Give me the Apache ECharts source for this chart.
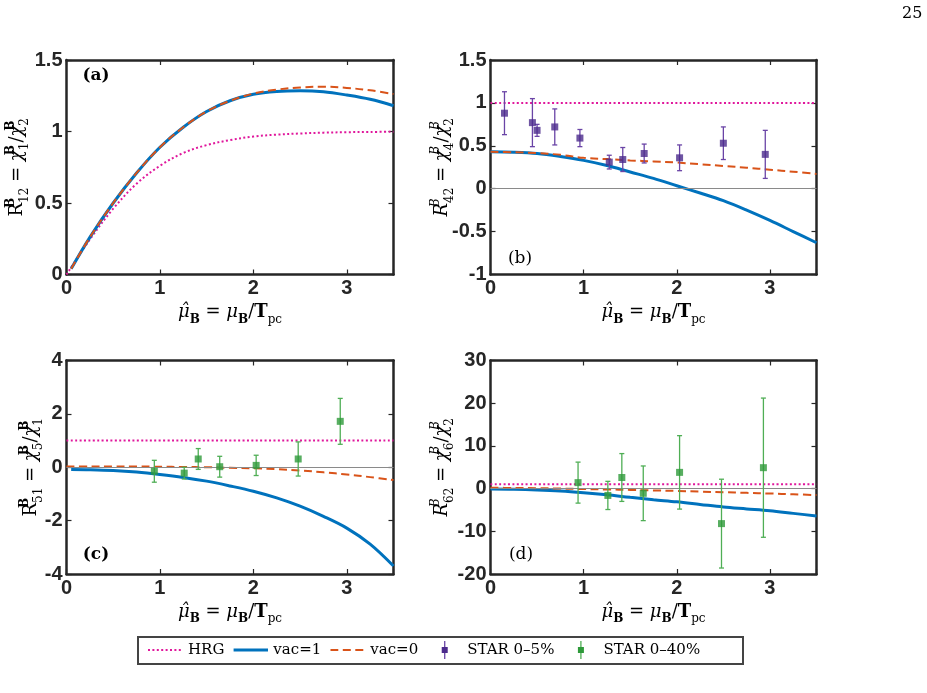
<!DOCTYPE html>
<html>
<head>
<meta charset="utf-8">
<script src="https://cdn.jsdelivr.net/npm/echarts@6/dist/echarts.min.js"></script>
<style>html,body{margin:0;padding:0;background:#fff}#c{width:927px;height:693px}</style>
</head>
<body>
<div id="c"></div>
<script>
// ---------- data ----------
const muFull   = [0, 0.25, 0.5, 0.75, 1, 1.25, 1.5, 1.75, 2, 2.25, 2.5, 2.75, 3, 3.25, 3.5];
const muTheory = [0.05, 0.25, 0.5, 0.75, 1, 1.25, 1.5, 1.75, 2, 2.25, 2.5, 2.75, 3, 3.25, 3.5];
const hrgEnds  = [0, 3.5];

// panel (a) R12
const hrgA  = [0, 0.245, 0.46, 0.635, 0.76, 0.85, 0.905, 0.94, 0.965, 0.978, 0.986, 0.992, 0.995, 0.997, 0.998];
const vac1A = [0.04, 0.26, 0.50, 0.71, 0.89, 1.03, 1.14, 1.215, 1.26, 1.28, 1.285, 1.278, 1.255, 1.225, 1.18];
const vac0A = [0.04, 0.26, 0.50, 0.71, 0.89, 1.03, 1.14, 1.215, 1.265, 1.293, 1.308, 1.313, 1.305, 1.288, 1.262];
// panel (b) R42
const hrgB  = [1, 1];
const vac1B = [0.43, 0.425, 0.41, 0.375, 0.33, 0.27, 0.195, 0.12, 0.035, -0.05, -0.14, -0.25, -0.37, -0.5, -0.63];
const vac0B = [0.43, 0.425, 0.415, 0.395, 0.36, 0.345, 0.33, 0.318, 0.305, 0.285, 0.265, 0.245, 0.222, 0.198, 0.172];
// panel (c) R51
const hrgC  = [1, 1];
const vac1C = [-0.08, -0.09, -0.12, -0.18, -0.27, -0.38, -0.52, -0.7, -0.9, -1.15, -1.46, -1.84, -2.28, -2.88, -3.7];
const vac0C = [0.03, 0.03, 0.03, 0.03, 0.02, 0.01, 0.0, -0.02, -0.04, -0.07, -0.12, -0.19, -0.27, -0.37, -0.48];
// panel (d) R62
const hrgD  = [1, 1];
const vac1D = [-0.1, -0.15, -0.3, -0.55, -0.95, -1.45, -2.05, -2.6, -3.1, -3.7, -4.3, -4.75, -5.2, -5.8, -6.4];
const vac0D = [0.2, 0.15, 0.1, 0.0, -0.1, -0.2, -0.3, -0.42, -0.55, -0.7, -0.85, -1.0, -1.15, -1.33, -1.52];

// STAR 0-5% (panel b)
const star05x   = [0.15, 0.45, 0.5, 0.69, 0.96, 1.275, 1.42, 1.65, 2.03, 2.5, 2.95];
const star05R42 = [0.88, 0.77, 0.68, 0.72, 0.59, 0.31, 0.34, 0.41, 0.36, 0.53, 0.40];
const star05Err = [0.25, 0.28, 0.07, 0.21, 0.10, 0.08, 0.14, 0.11, 0.15, 0.19, 0.28];
// STAR 0-40% (panels c, d)
const star40x      = [0.94, 1.26, 1.41, 1.64, 2.03, 2.48, 2.93];
const star40R51    = [-0.15, -0.22, 0.31, 0.02, 0.07, 0.31, 1.72];
const star40R51Err = [0.41, 0.22, 0.39, 0.39, 0.38, 0.64, 0.86];
const star40R62    = [1.4, -1.6, 2.6, -1.1, 3.8, -8.2, 4.9];
const star40R62Err = [4.8, 3.3, 5.6, 6.4, 8.6, 10.4, 16.3];

// axis ranges / ticks
const xRange = [0, 3.5, 1];
const yRanges = [[0, 1.5, 0.5], [-1, 1.5, 0.5], [-4, 4, 2], [-20, 30, 10]];
const panelLabels = ['(a)', '(b)', '(c)', '(d)'];
const legendNames = ['HRG', 'vac=1', 'vac=0', 'STAR 0–5%', 'STAR 0–40%'];

// ---------- styles ----------
const C_HRG = '#e0179c', C_V1 = '#0072BD', C_V0 = '#D95319';
const C_P = '#4b2a8c', C_PE = '#6a44a6', C_G = '#2e9a3a', C_GE = '#4fae55';
const AX = '#262626';
const grids = [
  {left: 66.5, top: 60, width: 327, height: 214.5},
  {left: 490.5, top: 60, width: 326, height: 214.5},
  {left: 66.5, top: 360.5, width: 327, height: 213.5},
  {left: 490.5, top: 360.5, width: 326, height: 213.5}
];
const yNameGap = [36, 35, 22, 35];

const zip = (xs, ys) => xs.map((x, k) => [x, ys[k]]);
const SER = 'DejaVu Serif';
function mathRich(bold) {
  return {
    n:  {fontFamily: SER, fontSize: 18, lineHeight: 26, color: '#000', verticalAlign: 'middle'},
    i:  {fontFamily: SER, fontSize: 18, lineHeight: 26, color: '#000', fontStyle: 'italic', verticalAlign: 'middle'},
    bf: {fontFamily: SER, fontSize: 18, lineHeight: 26, color: '#000', fontWeight: 'bold', verticalAlign: 'middle'},
    sp: {fontFamily: SER, fontSize: 12, lineHeight: 13, color: '#000', verticalAlign: 'top', width: 0,
         fontWeight: bold ? 'bold' : 'normal', fontStyle: bold ? 'normal' : 'italic'},
    sb: {fontFamily: SER, fontSize: 12, lineHeight: 10, color: '#000', verticalAlign: 'bottom'},
    sbb:{fontFamily: SER, fontSize: 12, lineHeight: 10, color: '#000', verticalAlign: 'bottom', fontWeight: 'bold'}
  };
}
const yNames = [
  '{n|R}{sp|B}{sb|12}{n| = }{i|χ}{sp|B}{sb|1}{n|/}{i|χ}{sp|B}{sb|2}',
  '{i|R}{sp|B}{sb|42}{n| = }{i|χ}{sp|B}{sb|4}{n|/}{i|χ}{sp|B}{sb|2}',
  '{n|R}{sp|B}{sb|51}{n| = }{i|χ}{sp|B}{sb|5}{n|/}{i|χ}{sp|B}{sb|1}',
  '{i|R}{sp|B}{sb|62}{n| = }{i|χ}{sp|B}{sb|6}{n|/}{i|χ}{sp|B}{sb|2}'
];
const xName = '{i|μ\u0302}{sbb|B}{n| = }{i|μ}{sbb|B}{n|/}{bf|T}{sb|pc}';

const xAxes = [], yAxes = [];
grids.forEach((g, i) => {
  const base = {
    gridIndex: i, type: 'value', min: xRange[0], max: xRange[1], interval: xRange[2],
    axisLine: {show: true, onZero: false, lineStyle: {color: AX, width: 2.5}},
    axisTick: {show: true, inside: true, length: 5, lineStyle: {color: AX, width: 1.2}},
    splitLine: {show: false}
  };
  xAxes.push(Object.assign({}, base, {
    position: 'bottom',
    axisLabel: {show: true, margin: 4, color: AX, fontFamily: 'Liberation Sans', fontWeight: 'bold', fontSize: 20,
      formatter: v => (Number.isInteger(v) ? String(v) : '')},
    name: xName, nameLocation: 'middle', nameGap: 25, nameMoveOverlap: false,
    nameTextStyle: {rich: mathRich(true)}
  }));
  xAxes.push(Object.assign({}, base, {position: 'top', axisLabel: {show: false}}));
  const yr = yRanges[i];
  const ybase = {
    gridIndex: i, type: 'value', min: yr[0], max: yr[1], interval: yr[2],
    axisLine: {show: true, onZero: false, lineStyle: {color: AX, width: 2.5}},
    axisTick: {show: true, inside: true, length: 5, lineStyle: {color: AX, width: 1.2}},
    splitLine: {show: false}
  };
  yAxes.push(Object.assign({}, ybase, {
    position: 'left',
    axisLabel: {show: true, margin: 4, color: AX, fontFamily: 'Liberation Sans', fontWeight: 'bold', fontSize: 20},
    name: yNames[i], nameLocation: 'middle', nameRotate: 90, nameGap: yNameGap[i], nameMoveOverlap: false,
    nameTextStyle: {rich: mathRich(i === 0 || i === 2)}
  }));
  yAxes.push(Object.assign({}, ybase, {position: 'right', axisLabel: {show: false}}));
});

function lineS(name, gi, xs, ys, color, type, width, z, extra) {
  return Object.assign({
    type: 'line', name, xAxisIndex: 2 * gi, yAxisIndex: 2 * gi, data: zip(xs, ys),
    symbol: 'none', smooth: 0.35, silent: true, z,
    lineStyle: {color, width, type}, itemStyle: {color}
  }, extra || {});
}
const zeroMark = {markLine: {silent: true, symbol: 'none', label: {show: false},
  lineStyle: {color: '#8a8a8a', width: 1, type: 'solid'}, data: [{yAxis: 0}]}};

function errS(name, gi, xs, ys, es, color) {
  return {
    type: 'custom', name, xAxisIndex: 2 * gi, yAxisIndex: 2 * gi, silent: true, z: 5,
    data: xs.map((x, k) => [x, ys[k], es[k]]), encode: {x: 0, y: 1},
    renderItem: (params, api) => {
      const x = api.value(0), y = api.value(1), e = api.value(2);
      const t = api.coord([x, y + e]), b = api.coord([x, y - e]);
      const st = {stroke: color, lineWidth: 1.3};
      return {type: 'group', children: [
        {type: 'line', shape: {x1: t[0], y1: t[1], x2: b[0], y2: b[1]}, style: st},
        {type: 'line', shape: {x1: t[0] - 2.5, y1: t[1], x2: t[0] + 2.5, y2: t[1]}, style: st},
        {type: 'line', shape: {x1: b[0] - 2.5, y1: b[1], x2: b[0] + 2.5, y2: b[1]}, style: st}
      ]};
    }
  };
}
function ptS(name, gi, xs, ys, color) {
  return {type: 'scatter', name, xAxisIndex: 2 * gi, yAxisIndex: 2 * gi, data: zip(xs, ys),
    symbol: 'rect', symbolSize: 7, itemStyle: {color}, silent: true, z: 6};
}

const DOT = [2, 2.4], DASH = [8, 4.5];
const series = [
  // (a)
  lineS('HRG', 0, muFull, hrgA, C_HRG, DOT, 2, 2),
  lineS('vac=1', 0, muTheory, vac1A, C_V1, 'solid', 3, 3),
  lineS('vac=0', 0, muTheory, vac0A, C_V0, DASH, 2, 4),
  // (b)
  lineS('HRG', 1, hrgEnds, hrgB, C_HRG, DOT, 2, 2, zeroMark),
  lineS('vac=1', 1, muFull, vac1B, C_V1, 'solid', 3, 3),
  lineS('vac=0', 1, muFull, vac0B, C_V0, DASH, 2, 4),
  errS('STAR 0–5%', 1, star05x, star05R42, star05Err, C_PE),
  ptS('STAR 0–5%', 1, star05x, star05R42, C_P),
  // (c)
  lineS('HRG', 2, hrgEnds, hrgC, C_HRG, DOT, 2, 2, zeroMark),
  lineS('vac=1', 2, muTheory, vac1C, C_V1, 'solid', 3, 3),
  lineS('vac=0', 2, muFull, vac0C, C_V0, DASH, 2, 4),
  errS('STAR 0–40%', 2, star40x, star40R51, star40R51Err, C_GE),
  ptS('STAR 0–40%', 2, star40x, star40R51, C_G),
  // (d)
  lineS('HRG', 3, hrgEnds, hrgD, C_HRG, DOT, 2, 2, zeroMark),
  lineS('vac=1', 3, muFull, vac1D, C_V1, 'solid', 3, 3),
  lineS('vac=0', 3, muFull, vac0D, C_V0, DASH, 2, 4),
  errS('STAR 0–40%', 3, star40x, star40R62, star40R62Err, C_GE),
  ptS('STAR 0–40%', 3, star40x, star40R62, C_G)
];

function svgIcon(inner) {
  const svg = "<svg xmlns='http://www.w3.org/2000/svg' width='35' height='18'>" + inner + "</svg>";
  return 'image://data:image/svg+xml;charset=utf-8,' + encodeURIComponent(svg);
}
function lineIcon(c, w, dash) {
  return svgIcon("<line x1='0' y1='9' x2='35' y2='9' stroke='" + c + "' stroke-width='" + w + "'" +
    (dash ? " stroke-dasharray='" + dash + "'" : "") + "/>");
}
function errIcon(lc, fc) {
  return svgIcon("<line x1='17.5' y1='0' x2='17.5' y2='18' stroke='" + lc + "' stroke-width='1.3'/>" +
    "<rect x='14.5' y='6' width='6' height='6' fill='" + fc + "'/>");
}

const labelPos = [[96, 76, 'bold'], [520, 259, 'normal'], [96, 555, 'bold'], [521, 555, 'normal']];
const graphics = [
  {type: 'text', left: 902, top: 6, style: {text: '25', font: '16px "DejaVu Serif"', fill: '#000'}},
  {type: 'rect', shape: {x: 138, y: 637, width: 605, height: 27},
   style: {fill: 'none', stroke: '#444', lineWidth: 2}, z: 10}
];
panelLabels.forEach((t, i) => {
  graphics.push({type: 'text', x: labelPos[i][0], y: labelPos[i][1],
    style: {text: t, font: labelPos[i][2] + ' 17px "DejaVu Serif"', fill: '#000', textAlign: 'center', textVerticalAlign: 'middle'}, z: 10});
});

const option = {
  animation: false,
  backgroundColor: '#fff',
  grid: grids,
  xAxis: xAxes,
  yAxis: yAxes,
  legend: {
    left: 148, top: 641, padding: 0, itemWidth: 35, itemHeight: 18, itemGap: 9,
    selectedMode: false,
    textStyle: {fontFamily: SER, fontSize: 15, color: '#000'},
    data: [
      {name: legendNames[0], icon: lineIcon(C_HRG, 2, '2 2.4')},
      {name: legendNames[1], icon: lineIcon(C_V1, 3, '')},
      {name: legendNames[2], icon: lineIcon(C_V0, 2, '8 4.5')},
      {name: legendNames[3], icon: errIcon(C_PE, C_P)},
      {name: legendNames[4], icon: errIcon(C_GE, C_G)}
    ]
  },
  graphic: graphics,
  series
};
const chart = echarts.init(document.getElementById('c'), null, {renderer: 'canvas'});
chart.setOption(option);
</script>
</body>
</html>
